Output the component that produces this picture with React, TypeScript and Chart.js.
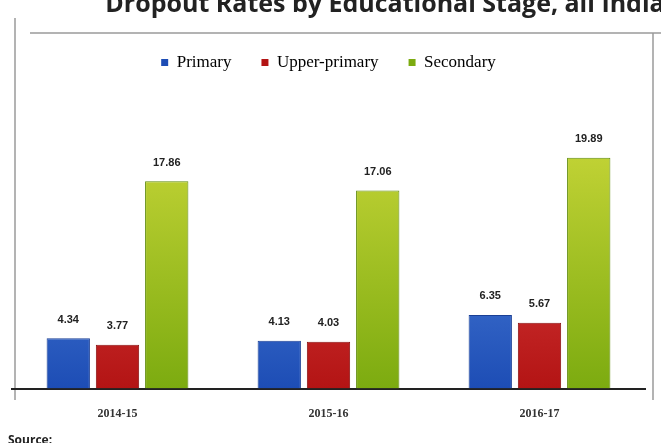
import React, { useEffect, useRef } from "react";
import { Chart, registerables } from "chart.js";

Chart.register(...registerables);

const titleText = "Dropout Rates by Educational Stage, all India";
const categories = ["2014-15", "2015-16", "2016-17"];
const seriesNames = ["Primary", "Upper-primary", "Secondary"];
const primary = [4.34, 4.13, 6.35];
const upperPrimary = [3.77, 4.03, 5.67];
const secondary = [17.86, 17.06, 19.89];

const gradStops: [string, string][] = [
  ["#6ea3f2", "#1d4db5"],
  ["#f25a5a", "#b31414"],
  ["#d6de40", "#7cab10"],
];
const borderCols = ["#1a3f95", "#8a1010", "#5e8a0a"];

function makeGrad(ctx: any, i: number) {
  const chart = ctx.chart;
  const area = chart.chartArea;
  if (!area) return gradStops[i][1];
  const g = chart.ctx.createLinearGradient(0, area.top, 0, area.bottom);
  g.addColorStop(0, gradStops[i][0]);
  g.addColorStop(1, gradStops[i][1]);
  return g;
}

const decoPlugin = {
  id: "deco",
  beforeDraw(chart: any) {
    const c = chart.ctx;
    c.save();
    c.strokeStyle = "#9a9a9a";
    c.lineWidth = 1.5;
    c.beginPath();
    c.moveTo(15, 400);
    c.lineTo(15, 18);
    c.moveTo(30, 33);
    c.lineTo(661, 33);
    c.moveTo(653, 33);
    c.lineTo(653, 400);
    c.stroke();
    c.fillStyle = "#222";
    c.font = "bold 25px 'Open Sans', sans-serif";
    c.textAlign = "center";
    c.textBaseline = "middle";
    c.fillText(titleText, 385, 5);
    c.font = "bold 12px 'Open Sans', sans-serif";
    c.textAlign = "left";
    c.fillText("Source:", 8, 441);
    c.restore();
  },
  afterDatasetsDraw(chart: any) {
    const c = chart.ctx;
    c.save();
    c.font = "bold 11px 'Liberation Sans', Arial, sans-serif";
    c.textAlign = "center";
    c.textBaseline = "bottom";
    c.fillStyle = "#222";
    chart.data.datasets.forEach((ds: any, di: number) => {
      const meta = chart.getDatasetMeta(di);
      meta.data.forEach((bar: any, i: number) => {
        c.fillText(Number(ds.data[i]).toFixed(2), bar.x, bar.y - 13);
      });
    });
    c.restore();
  },
};

export default function App() {
  const ref = useRef<HTMLCanvasElement | null>(null);
  useEffect(() => {
    if (!ref.current) return;
    const values = [primary, upperPrimary, secondary];
    const chart = new Chart(ref.current, {
      type: "bar",
      data: {
        labels: categories,
        datasets: seriesNames.map((name, i) => ({
          label: name,
          data: values[i],
          backgroundColor: (ctx: any) => makeGrad(ctx, i),
          borderColor: borderCols[i],
          borderWidth: 1,
          categoryPercentage: 0.7,
          barPercentage: 0.88,
        })),
      },
      options: {
        responsive: false,
        animation: false,
        layout: { padding: { top: 24, left: 12, right: 16, bottom: 12 } },
        plugins: {
          title: { display: false },
          tooltip: { enabled: false },
          legend: {
            display: true,
            position: "top",
            labels: {
              boxWidth: 7,
              boxHeight: 7,
              padding: 30,
              color: "#555",
              font: { size: 17, family: "'Liberation Serif', serif" },
              generateLabels: () =>
                seriesNames.map((n, i) => ({
                  text: n,
                  fillStyle: gradStops[i][1],
                  strokeStyle: gradStops[i][1],
                  lineWidth: 0,
                  datasetIndex: i,
                  hidden: false,
                })),
            },
          },
        },
        scales: {
          x: {
            grid: { display: false },
            border: { display: true, color: "#222", width: 2 },
            ticks: {
              color: "#333",
              padding: 10,
              font: { size: 12, weight: "bold", family: "'Liberation Serif', serif" },
            },
          },
          y: {
            display: false,
            min: 0,
            max: 26.5,
          },
        },
      },
      plugins: [decoPlugin],
    });
    return () => chart.destroy();
  }, []);
  return (
    <div style={{ position: "fixed", left: 0, top: 0, width: 661, height: 443, overflow: "hidden", background: "#fff" }}>
      <canvas ref={ref} width={661} height={443} style={{ display: "block" }} />
    </div>
  );
}
